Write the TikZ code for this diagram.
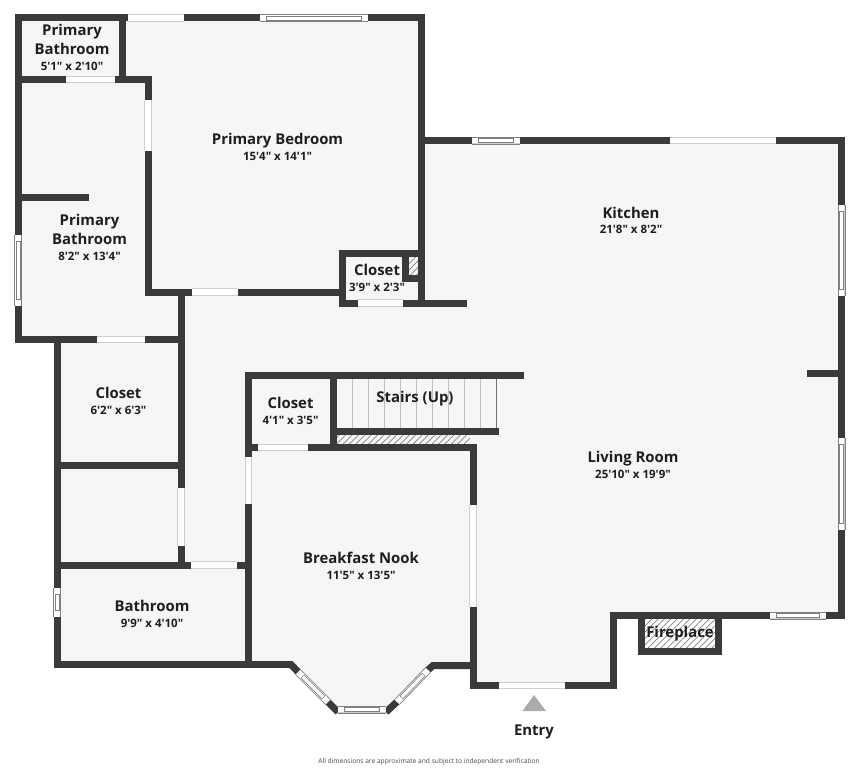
\documentclass[tikz,border=0pt]{standalone}
\usepackage{fontspec}
\usetikzlibrary{calc,patterns.meta}
\newfontfamily\planfont{Open Sans}
\definecolor{wallc}{HTML}{3A3A3A}
\definecolor{floorc}{HTML}{F6F6F6}
\definecolor{edgec}{HTML}{CFCFCF}
\definecolor{textc}{HTML}{1E1E1E}
\tikzset{
  x=1pt,y=-1pt,
  wall/.style={draw=wallc,line width=7pt,line cap=butt,line join=miter},
  hatch/.style={pattern={Lines[angle=45,distance=4.5pt,line width=0.7pt]},pattern color=black!50},
  roomname/.style={font=\planfont\fontsize{14.9}{15}\selectfont\bfseries,text=textc,inner sep=0pt,text height=14pt,text depth=2.5pt},
  roomdim/.style={font=\planfont\fontsize{11.5}{12}\selectfont\bfseries,text=textc,inner sep=0pt,text height=9.5pt,text depth=0pt},
  treadline/.style={draw=black!25,line width=1pt}
}
% opening: white band with light edges
\newcommand{\opening}[4]{%
  \coordinate (A) at (#1,#2); \coordinate (B) at (#3,#4);
  \draw[white,line width=7pt] (A) -- (B);
  \draw[edgec,line width=0.7pt] ($(A)!3.3pt!90:(B)$) -- ($(B)!3.3pt!-90:(A)$);
  \draw[edgec,line width=0.7pt] ($(A)!3.3pt!-90:(B)$) -- ($(B)!3.3pt!90:(A)$);
}
% window: opening plus a thin inner frame
\newcommand{\wndw}[4]{%
  \opening{#1}{#2}{#3}{#4}
  \coordinate (P) at ($(A)!6.5pt!(B)$); \coordinate (Q) at ($(B)!6.5pt!(A)$);
  \draw[black!50,line width=0.6pt] ($(A)!3.5pt!90:(B)$) -- ($(B)!3.5pt!-90:(A)$);
  \draw[black!50,line width=0.6pt] ($(A)!3.5pt!-90:(B)$) -- ($(B)!3.5pt!90:(A)$);
  \draw[black!50,line width=0.6pt] ($(P)!2pt!90:(B)$) -- ($(Q)!2pt!-90:(A)$) -- ($(Q)!2pt!90:(A)$) -- ($(P)!2pt!-90:(B)$) -- cycle;
}
\begin{document}
\begin{tikzpicture}
\useasboundingbox (0,0) rectangle (858,768);
\fill[white] (0,0) rectangle (858,768);
% floor
\fill[floorc] (18,18) -- (421,18) -- (421,141) -- (841,141) -- (841,615) -- (613,615) -- (613,685) -- (473,685) -- (473,665) -- (432,665) -- (390,710) -- (335,710) -- (290,664) -- (57,664) -- (57,339.5) -- (18,339.5) -- cycle;
% stairs treads
\foreach \tx in {352.7,368.7,384.7,400.7,416.7,432.7,448.7,464.7,480.3}
  \draw[treadline] (\tx,379) -- (\tx,428);
\draw[draw=black!55,line width=1pt] (496.5,379) -- (496.5,428);
% hatched areas
\path[hatch] (337,434) rectangle (470,444);
\path[hatch] (409,256) rectangle (418,275);
\fill[white] (645,619) rectangle (716,648);
\path[hatch] (645,619) rectangle (716,648);
% walls: primary suite
\draw[wall] (128,18) -- (18,18) -- (18,235);
\draw[wall] (18,306) -- (18,339.5) -- (97,339.5);
\draw[wall] (145,339.5) -- (184,339.5);
\draw[wall] (184,18) -- (260,18);
\draw[wall] (368,18) -- (421.5,18) -- (421.5,306);
\draw[wall] (122.5,18) -- (122.5,79);
\draw[wall] (15,79.5) -- (66,79.5);
\draw[wall] (115,79.5) -- (148,79.5) -- (148,100);
\draw[wall] (148,151) -- (148,292) -- (192,292);
\draw[wall] (238,292) -- (340,292);
\draw[wall] (18,197.5) -- (89,197.5);
% closet by bedroom
\draw[wall] (358,303) -- (342.5,303) -- (342.5,253) -- (421,253);
\draw[wall] (403,303) -- (467,303);
\draw[wall] (405.5,253) -- (405.5,278) -- (421,278);
% central hall
\draw[wall] (181,292) -- (181,488);
\draw[wall] (181,546) -- (181,565);
\draw[wall] (57,339.5) -- (57,588);
\draw[wall] (57,617) -- (57,664.5) -- (290,664.5);
\draw[wall] (57,465) -- (181,465);
\draw[wall] (57,565) -- (191,565);
\draw[wall] (237,565) -- (252,565);
\draw[wall] (524,375.5) -- (248.5,375.5) -- (248.5,457);
\draw[wall] (248.5,504) -- (248.5,664);
\draw[wall] (333.5,375) -- (333.5,451);
\draw[wall] (333,431) -- (499,431);
\draw[wall] (252,447.5) -- (258,447.5);
\draw[wall] (308,447.5) -- (476,447.5);
\draw[wall] (473,444) -- (473,505);
% bay
\draw[wall] (288,664.5) -- (291,664.5) -- (300,674);
\draw[wall] (326,700) -- (338,712);
\draw[wall] (386,712) -- (399,700);
\draw[wall] (427,671) -- (433,665.5) -- (473,665.5);
% entry and living room
\draw[wall] (473,607) -- (473,685.5) -- (499,685.5);
\draw[wall] (565,685.5) -- (613.5,685.5) -- (613.5,615.5) -- (770,615.5);
\draw[wall] (826,615.5) -- (841.5,615.5) -- (841.5,530);
\draw[wall] (841.5,438) -- (841.5,296);
\draw[wall] (841.5,205) -- (841.5,140.5) -- (776,140.5);
\draw[wall] (670,140.5) -- (520,140.5);
\draw[wall] (472,140.5) -- (421,140.5);
\draw[wall] (807,373) -- (841,373);
% fireplace
\draw[wall] (641.5,615) -- (641.5,651.5) -- (718.5,651.5) -- (718.5,615);
% doors
\opening{128}{18}{184}{18}
\opening{66}{79.5}{115}{79.5}
\opening{148}{100}{148}{151}
\opening{192}{292}{238}{292}
\opening{97}{339.5}{145}{339.5}
\opening{358}{303}{403}{303}
\opening{181}{488}{181}{546}
\opening{191}{565}{237}{565}
\opening{248.5}{457}{248.5}{504}
\opening{258}{447.5}{308}{447.5}
\opening{473}{505}{473}{607}
\opening{499}{685.5}{565}{685.5}
\opening{670}{140.5}{776}{140.5}
% windows
\wndw{260}{18}{368}{18}
\wndw{18}{235}{18}{306}
\wndw{57}{588}{57}{617}
\wndw{472}{140.5}{520}{140.5}
\wndw{841.5}{205}{841.5}{296}
\wndw{841.5}{438}{841.5}{530}
\wndw{770}{615.5}{826}{615.5}
\wndw{298}{672}{328}{702}
\wndw{338}{709.5}{386}{709.5}
\wndw{397}{702}{428}{670}
% entry marker
\fill[black!33] (534,695) -- (546,711) -- (522.5,711) -- cycle;
% labels
\node[roomname] (pb1a) at (72,30) {Primary};
\node[roomname] (pb1b) at (72,49) {Bathroom};
\node[roomdim] (pb1d) at (72,65.5) {5'1" x 2'10"};
\node[roomname] (bed) at (277.5,139) {Primary Bedroom};
\node[roomdim] (bedd) at (277.5,156) {15'4" x 14'1"};
\node[roomname] (pb2a) at (89.5,220) {Primary};
\node[roomname] (pb2b) at (89.5,239) {Bathroom};
\node[roomdim] (pb2d) at (89.5,256) {8'2" x 13'4"};
\node[roomname] (c1) at (377,270) {Closet};
\node[roomdim] (c1d) at (377,287) {3'9" x 2'3"};
\node[roomname] (kit) at (631,213) {Kitchen};
\node[roomdim] (kitd) at (631,229) {21'8" x 8'2"};
\node[roomname] (c2) at (118.5,393) {Closet};
\node[roomdim] (c2d) at (118.5,410) {6'2" x 6'3"};
\node[roomname] (c3) at (290.5,403) {Closet};
\node[roomdim] (c3d) at (290.5,420) {4'1" x 3'5"};
\node[roomname] (st) at (415,397) {Stairs (Up)};
\node[roomname] (liv) at (633,457) {Living Room};
\node[roomdim] (livd) at (633,474) {25'10" x 19'9"};
\node[roomname] (nook) at (361,558) {Breakfast Nook};
\node[roomdim] (nookd) at (361,575) {11'5" x 13'5"};
\node[roomname] (bath) at (152,606) {Bathroom};
\node[roomdim] (bathd) at (152,623) {9'9" x 4'10"};
\node[roomname] (fire) at (680,632) {Fireplace};
\node[roomname] (entry) at (534,730) {Entry};
\node[font=\planfont\fontsize{6.65}{7}\selectfont,text=black!70,inner sep=0pt] (note) at (429,761.5) {All dimensions are approximate and subject to independent verification};
\end{tikzpicture}
\end{document}
